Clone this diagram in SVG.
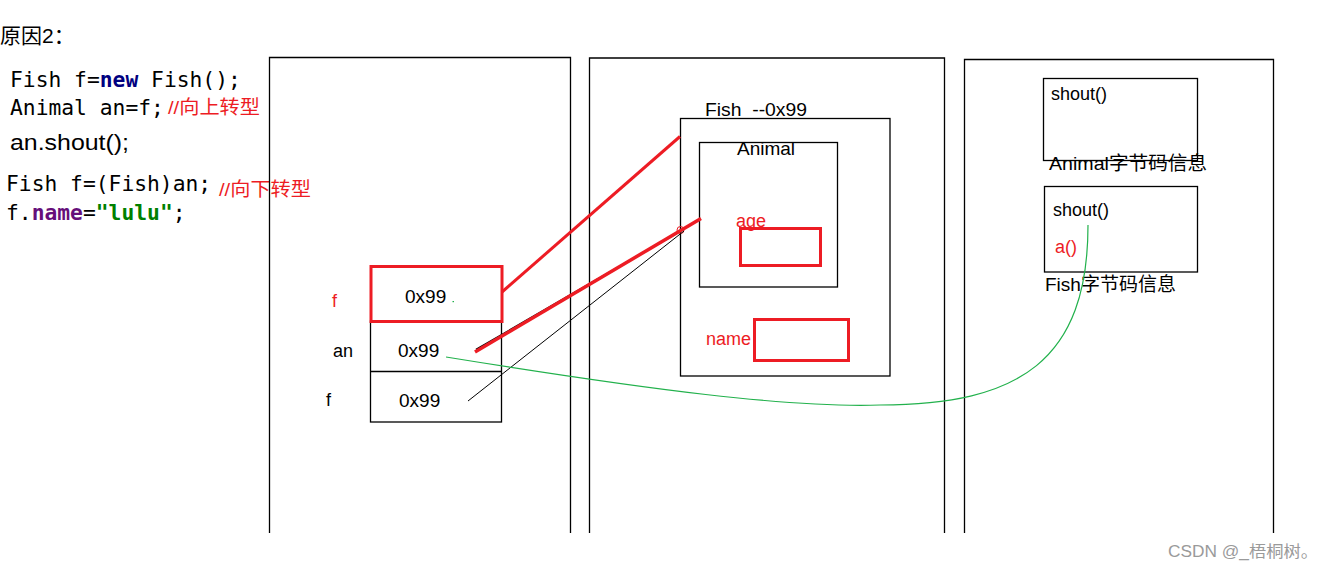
<svg xmlns="http://www.w3.org/2000/svg" width="1327" height="569" viewBox="0 0 1327 569">
<style>
.bk{fill:none;stroke:#000;stroke-width:1.3}
.rb{fill:none;stroke:#ED1C24;stroke-width:3}
.t{font-family:"Liberation Sans","Noto Sans CJK SC",sans-serif;fill:#000}
.r{fill:#ED1C24}
.mono{font-family:"DejaVu Sans Mono","Liberation Mono",monospace;font-size:21.3px;fill:#000}
.cm{font-family:"Liberation Sans","Noto Sans CJK SC",sans-serif;font-size:19px;fill:#ED1C24}
</style>
<rect width="1327" height="569" fill="#fff"/>
<g id="code">
<text class="t" x="0" y="43" font-size="21">原因2：</text>
<text class="mono" x="10" y="87">Fish f=<tspan font-weight="bold" fill="#000080">new</tspan> Fish();</text>
<text class="mono" x="10" y="115">Animal an=f;</text>
<text class="cm" x="168" y="114" textLength="92" lengthAdjust="spacingAndGlyphs">//向上转型</text>
<text class="t" x="10" y="150" font-size="22" textLength="119" lengthAdjust="spacingAndGlyphs">an.shout();</text>
<text class="mono" x="6" y="191">Fish f=(Fish)an;</text>
<text class="cm" x="219" y="196" textLength="92" lengthAdjust="spacingAndGlyphs">//向下转型</text>
<text class="mono" x="6" y="220">f.<tspan font-weight="bold" fill="#660E7A">name</tspan>=<tspan font-weight="bold" fill="#008000">"lulu"</tspan>;</text>
</g>
<g id="panels">
<path class="bk" d="M269.5,533 V57.5 H570.5 V533"/>
<path class="bk" d="M589.5,533 V58 H944.5 V533"/>
<path class="bk" d="M964.5,533 V59.5 H1273.5 V533"/>
</g>
<g id="stack">
<rect class="bk" x="370.5" y="321" width="131" height="101"/>
<line class="bk" x1="370.5" y1="371.5" x2="501.5" y2="371.5"/>
<rect class="rb" x="371" y="266.5" width="131" height="55"/>
<text class="t r" x="332" y="307" font-size="18">f</text>
<text class="t" x="333" y="357" font-size="18">an</text>
<text class="t" x="326" y="406" font-size="18">f</text>
<text class="t" x="405" y="303" font-size="19">0x99</text>
<text class="t" x="398" y="357" font-size="19">0x99</text>
<text class="t" x="399" y="407" font-size="19">0x99</text>
<rect x="452.5" y="301" width="1.5" height="1.2" fill="#22B14C"/>
</g>
<g id="heap">
<text class="t" x="705" y="116" font-size="18" textLength="102" lengthAdjust="spacingAndGlyphs">Fish&#160;&#160;--0x99</text>
<rect class="bk" x="680.5" y="118.5" width="209.5" height="257.5"/>
<rect class="bk" x="699.5" y="142.5" width="138" height="144.5"/>
<text class="t" x="737" y="155" font-size="19">Animal</text>
<text class="t r" x="736" y="227" font-size="18">age</text>
<rect class="rb" x="740.5" y="228.5" width="80" height="37"/>
<text class="t r" x="706" y="345" font-size="18">name</text>
<rect class="rb" x="754.5" y="319.5" width="94" height="41"/>
</g>
<g id="methodArea">
<rect class="bk" x="1043.5" y="78.5" width="154" height="82"/>
<text class="t" x="1051" y="100" font-size="18">shout()</text>
<text class="t" x="1049" y="170" font-size="19" textLength="158" lengthAdjust="spacingAndGlyphs">Animal字节码信息</text>
<rect class="bk" x="1044.5" y="186.5" width="153" height="85.5"/>
<text class="t" x="1053" y="216" font-size="18">shout()</text>
<text class="t r" x="1055" y="253" font-size="18">a()</text>
<text class="t" x="1045" y="291" font-size="19" textLength="131" lengthAdjust="spacingAndGlyphs">Fish字节码信息</text>
</g>
<g id="connectors" fill="none">
<line x1="502" y1="292" x2="680" y2="136.5" stroke="#ED1C24" stroke-width="3"/>
<line x1="476" y1="349.5" x2="684" y2="229" stroke="#000" stroke-width="1.5"/>
<line x1="475" y1="352" x2="701" y2="218.5" stroke="#ED1C24" stroke-width="3.5"/>
<circle cx="680.5" cy="230" r="3.5" stroke="#ED1C24" stroke-width="1"/>
<line x1="468" y1="401" x2="684" y2="231" stroke="#000" stroke-width="1"/>
<path d="M446,357 C650,390 790,408 880,405 C1020,405 1088,360 1088,225" stroke="#22B14C" stroke-width="1.2"/>
</g>
<text x="1168" y="557" font-family="Liberation Sans,'Noto Sans CJK SC',sans-serif" font-size="16" fill="#9a9a9a" textLength="150" lengthAdjust="spacingAndGlyphs">CSDN @_梧桐树。</text>
</svg>
